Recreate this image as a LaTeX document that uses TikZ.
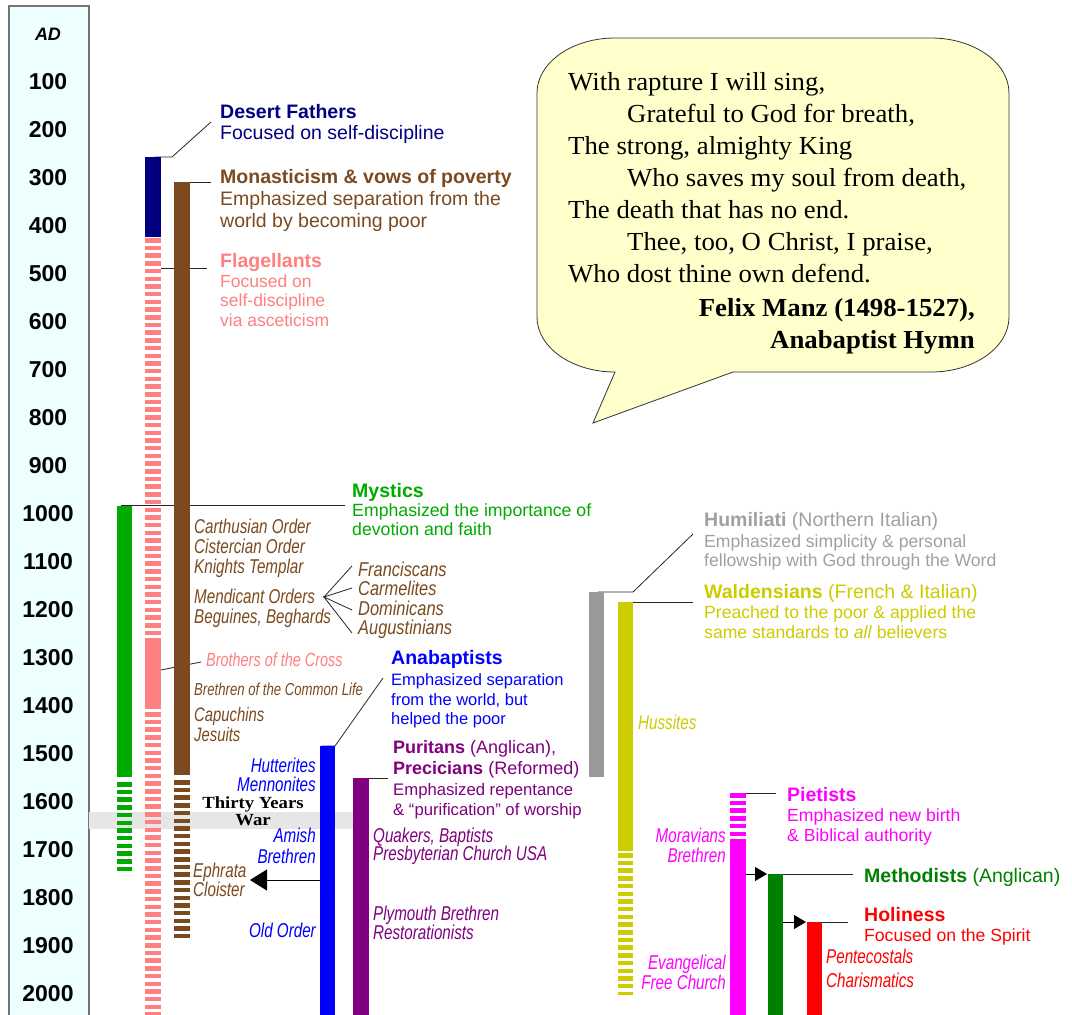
\documentclass[tikz,border=0pt]{standalone}
\usepackage{fontspec}
\setmainfont{Liberation Sans}
\newfontfamily\narrowsans[FakeStretch=0.76]{Liberation Sans}
\newfontfamily\fanwide[FakeStretch=0.82]{Liberation Sans}
\newfontfamily\hymnserif[FakeStretch=1.03]{Liberation Serif}
\newfontfamily\warserif[FakeStretch=1.1]{Liberation Serif}
\usetikzlibrary{arrows.meta}

\newcommand\fsz[1]{\fontsize{#1}{#1}\selectfont}

\definecolor{navyc}{HTML}{000080}
\definecolor{brownc}{HTML}{7B4A1E}
\definecolor{pinkc}{HTML}{FF8080}
\definecolor{mysticc}{HTML}{00AA00}
\definecolor{anabc}{HTML}{0000FF}
\definecolor{puritc}{HTML}{800080}
\definecolor{humilc}{HTML}{999999}
\definecolor{humiltxt}{HTML}{A0A0A0}
\definecolor{waldc}{HTML}{CCCC00}
\definecolor{pietc}{HTML}{FF00FF}
\definecolor{methc}{HTML}{008000}
\definecolor{holyc}{HTML}{FF0000}
\definecolor{axisbg}{HTML}{EEFFFF}
\definecolor{warbg}{HTML}{E6E6E6}
\definecolor{bubblebg}{HTML}{FFFFCC}

\begin{document}
\begin{tikzpicture}[x=1pt,y=-1pt,
  head/.style={anchor=base west,inner sep=0pt,font=\fsz{19.5}\bfseries},
  mixhead/.style={anchor=base west,inner sep=0pt,font=\fsz{19.5}},
  desc/.style={anchor=base west,inner sep=0pt,font=\fsz{19.5}},
  sdesc/.style={anchor=base west,inner sep=0pt,font=\fsz{#1}},
  ilab/.style={anchor=base west,inner sep=0pt,font=\narrowsans\itshape\fsz{20}},
  ilabr/.style={anchor=base east,inner sep=0pt,font=\narrowsans\itshape\fsz{20}},
  fanlab/.style={anchor=base west,inner sep=0pt,text=brownc,font=\fanwide\itshape\fsz{20}},
  yearlbl/.style={anchor=center,inner sep=0pt,font=\fsz{23}\bfseries},
  hymn/.style={anchor=base west,inner sep=0pt,font=\hymnserif\fsz{26}},
  hymnby/.style={anchor=base east,inner sep=0pt,font=\hymnserif\bfseries\fsz{26}},
  leader/.style={draw=black!85,line width=0.8pt},
  dashbar/.style={line width=#1,dash pattern=on 4.5pt off 3.2pt},
  dashbar/.default=16pt
]
\useasboundingbox (0,0) rectangle (1072,1015);
\fill[white] (0,0) rectangle (1072,1015);

% ---------- year axis ----------
\filldraw[fill=axisbg,draw=black!55,line width=1.2pt] (9,6) rectangle (89,1017);
\node[anchor=center,inner sep=0pt,font=\fsz{18}\bfseries\itshape] (ad) at (48,34) {AD};
\foreach \yr in {100,200,...,2000}
  \node[yearlbl] (y\yr) at (48,{34+0.48*\yr}) {\yr};

% ---------- Thirty Years War band ----------
\fill[warbg] (89,812) rectangle (353,829);

% ---------- leader lines (behind the bars) ----------
\coordinate (dfTop) at (155,157);
\coordinate (dfBend) at (172,157);
\coordinate (dfEnd) at (211,122);
\draw[leader] (dfTop) -- (dfBend) -- (dfEnd);

\coordinate (moTop) at (183,182);
\coordinate (moEnd) at (211,182);
\draw[leader] (moTop) -- (moEnd);

\coordinate (flStart) at (161,268);
\coordinate (flEnd) at (207,268);
\draw[leader] (flStart) -- (flEnd);

\coordinate (myStart) at (121,505);
\coordinate (myEnd) at (345,505);
\draw[leader] (myStart) -- (myEnd);

\coordinate (brStart) at (161,670);
\coordinate (brEnd) at (201,662);
\draw[leader] (brStart) -- (brEnd);

\coordinate (fan) at (324,597);
\coordinate (fanA) at (352,566);
\coordinate (fanB) at (352,588);
\coordinate (fanC) at (352,610);
\coordinate (fanD) at (352,633);
\draw[leader] (fanA) -- (fan) -- (fanB) (fanC) -- (fan) -- (fanD);

\coordinate (anTop) at (322,746);
\coordinate (anBend) at (335,746);
\coordinate (anEnd) at (383,678);
\draw[leader] (anTop) -- (anBend) -- (anEnd);

\coordinate (puTop) at (359,778);
\coordinate (puEnd) at (388,778);
\draw[leader] (puTop) -- (puEnd);

\coordinate (huTop) at (598,592);
\coordinate (huBend) at (633,592);
\coordinate (huEnd) at (693,534);
\draw[leader] (huTop) -- (huBend) -- (huEnd);

\coordinate (waTop) at (626,602);
\coordinate (waEnd) at (693,602);
\draw[leader] (waTop) -- (waEnd);

\coordinate (piTop) at (738,793);
\coordinate (piEnd) at (776,793);
\draw[leader] (piTop) -- (piEnd);

\coordinate (meTop) at (775,874);
\coordinate (meEnd) at (853,874);
\draw[leader] (meTop) -- (meEnd);

\coordinate (hoTop) at (815,922);
\coordinate (hoEnd) at (848,922);
\draw[leader] (hoTop) -- (hoEnd);

% ---------- bars ----------
% Desert Fathers / Flagellants column
\fill[navyc] (145,157) rectangle (161,237);
\draw[pinkc,dashbar] (153,238) -- (153,640);
\fill[pinkc] (145,640) rectangle (161,709);
\draw[pinkc,dashbar] (153,712) -- (153,1016);
% Monasticism
\fill[brownc] (174,182) rectangle (190,775);
\draw[brownc,dashbar] (182,780) -- (182,938);
% Mystics
\fill[mysticc] (117,506) rectangle (132,777);
\draw[mysticc,dashbar=15pt] (124.5,782) -- (124.5,871);
% Anabaptists, Puritans
\fill[anabc] (320,746) rectangle (335,1016);
\fill[puritc] (353,778) rectangle (369,1016);
% Humiliati, Waldensians
\fill[humilc] (589,592) rectangle (604,777);
\fill[waldc] (618,602) rectangle (633,851);
\draw[waldc,dashbar=15pt] (625.5,853) -- (625.5,995);
% Pietists, Methodists, Holiness
\draw[pietc,dashbar] (738,793) -- (738,841);
\fill[pietc] (730,841) rectangle (746,1016);
\fill[methc] (768,874) rectangle (783,1016);
\fill[holyc] (807,922) rectangle (822,1016);

% ---------- arrows ----------
\coordinate (ephFrom) at (320,880);
\coordinate (ephTo) at (250,880);
\draw[line width=0.8pt,-{Triangle[length=17pt,width=21pt]}] (ephFrom) -- (ephTo);
\coordinate (meFrom) at (746,874);
\coordinate (meTo) at (767,874);
\draw[line width=0.8pt,-{Triangle[length=12pt,width=14pt]}] (meFrom) -- (meTo);
\coordinate (hoFrom) at (783,922);
\coordinate (hoTo) at (806,922);
\draw[line width=0.8pt,-{Triangle[length=12pt,width=14pt]}] (hoFrom) -- (hoTo);

% ---------- labels ----------
\node[head,text=navyc] (df) at (220,118) {Desert Fathers};
\node[desc,text=navyc] (df1) at (220,139) {Focused on self-discipline};

\node[head,text=brownc] (mo) at (220,183) {Monasticism \& vows of poverty};
\node[desc,text=brownc] (mo1) at (220,205) {Emphasized separation from the};
\node[desc,text=brownc] (mo2) at (220,227) {world by becoming poor};

\node[head,text=pinkc] (fl) at (220,267) {Flagellants};
\node[sdesc=17.5,text=pinkc] (fl1) at (220,287) {Focused on};
\node[sdesc=17.5,text=pinkc] (fl2) at (220,306.5) {self-discipline};
\node[sdesc=17.5,text=pinkc] (fl3) at (220,326) {via asceticism};

\node[head,text=mysticc] (my) at (352,497) {Mystics};
\node[sdesc=17.7,text=mysticc] (my1) at (352,516) {Emphasized the importance of};
\node[sdesc=17.7,text=mysticc] (my2) at (352,535) {devotion and faith};

\node[ilab,text=brownc] (o1) at (194,533) {Carthusian Order};
\node[ilab,text=brownc] (o2) at (194,553) {Cistercian Order};
\node[ilab,text=brownc] (o3) at (194,573) {Knights Templar};
\node[ilab,text=brownc] (o4) at (194,603) {Mendicant Orders};
\node[ilab,text=brownc] (o5) at (194,623) {Beguines, Beghards};

\node[fanlab] (fr1) at (358,576) {Franciscans};
\node[fanlab] (fr2) at (358,595.5) {Carmelites};
\node[fanlab] (fr3) at (358,615) {Dominicans};
\node[fanlab] (fr4) at (358,634.5) {Augustinians};

\node[ilab,text=pinkc,font=\narrowsans\itshape\fsz{19}] (bc) at (206,666) {Brothers of the Cross};
\node[ilab,text=brownc,font=\narrowsans\itshape\fsz{17.3}] (bl) at (194,695) {Brethren of the Common Life};
\node[ilab,text=brownc,font=\narrowsans\itshape\fsz{19.5}] (cap) at (194,721) {Capuchins};
\node[ilab,text=brownc,font=\narrowsans\itshape\fsz{19.5}] (jes) at (194,741) {Jesuits};

\node[head,text=anabc] (an) at (391,664) {Anabaptists};
\node[sdesc=16.5,text=anabc] (an1) at (391,685) {Emphasized separation};
\node[sdesc=16.5,text=anabc] (an2) at (391,705) {from the world, but};
\node[sdesc=16.5,text=anabc] (an3) at (391,724) {helped the poor};

\node[sdesc=18,text=puritc] (pu) at (393,753) {\textbf{Puritans} (Anglican),};
\node[sdesc=18,text=puritc] (pr) at (393,774) {\textbf{Precicians} (Reformed)};
\node[sdesc=16.7,text=puritc] (pu1) at (393,795) {Emphasized repentance};
\node[sdesc=16.7,text=puritc] (pu2) at (393,815) {\& “purification” of worship};

\node[ilabr,text=anabc] (hut) at (316,772) {Hutterites};
\node[ilabr,text=anabc] (men) at (316,791) {Mennonites};
\node[ilabr,text=anabc] (ami) at (316,842) {Amish};
\node[ilabr,text=anabc] (bre) at (316,863) {Brethren};
\node[ilabr,text=anabc] (old) at (316,937) {Old Order};

\node[anchor=base,inner sep=0pt,font=\warserif\bfseries\fsz{17}] (war1) at (253,808) {Thirty Years};
\node[anchor=base,inner sep=0pt,font=\warserif\bfseries\fsz{17}] (war2) at (253,825) {War};

\node[ilab,text=brownc] (eph1) at (193,877) {Ephrata};
\node[ilab,text=brownc] (eph2) at (193,896) {Cloister};

\node[ilab,text=puritc] (qu) at (373,842) {Quakers, Baptists};
\node[ilab,text=puritc] (pc) at (373,860) {Presbyterian Church USA};
\node[ilab,text=puritc] (pl) at (373,920) {Plymouth Brethren};
\node[ilab,text=puritc] (re) at (373,939) {Restorationists};

\node[mixhead,text=humiltxt] (hu) at (704,526) {\textbf{Humiliati} (Northern Italian)};
\node[sdesc=17.6,text=humiltxt] (hu1) at (704,547) {Emphasized simplicity \& personal};
\node[sdesc=17.6,text=humiltxt] (hu2) at (704,566) {fellowship with God through the Word};

\node[mixhead,text=waldc] (wa) at (704,598) {\textbf{Waldensians} (French \& Italian)};
\node[sdesc=17.6,text=waldc] (wa1) at (704,618) {Preached to the poor \& applied the};
\node[sdesc=17.6,text=waldc] (wa2) at (704,638) {same standards to \textit{all} believers};

\node[ilab,text=waldc] (hus) at (638,729) {Hussites};

\node[head,text=pietc] (pi) at (787,801) {Pietists};
\node[sdesc=17.6,text=pietc] (pi1) at (787,821) {Emphasized new birth};
\node[sdesc=17.6,text=pietc] (pi2) at (787,841) {\& Biblical authority};

\node[ilabr,text=pietc] (mor1) at (726,842) {Moravians};
\node[ilabr,text=pietc] (mor2) at (726,862) {Brethren};
\node[ilabr,text=pietc] (ev1) at (726,969) {Evangelical};
\node[ilabr,text=pietc] (ev2) at (726,989) {Free Church};

\node[mixhead,text=methc] (me) at (864,882) {\textbf{Methodists} (Anglican)};

\node[head,text=holyc] (ho) at (864,921) {Holiness};
\node[sdesc=17.6,text=holyc] (ho1) at (864,941) {Focused on the Spirit};
\node[ilab,text=holyc] (pe1) at (826,963) {Pentecostals};
\node[ilab,text=holyc] (pe2) at (826,987) {Charismatics};

% ---------- hymn speech bubble ----------
\filldraw[fill=bubblebg,draw=black!80,line width=0.8pt]
  (615,38) -- (931,38) .. controls (974,38) and (1009,62.6) .. (1009,93)
  -- (1009,317) .. controls (1009,347.4) and (974,372) .. (931,372)
  -- (733,372) -- (593,423) -- (615,372)
  .. controls (572,372) and (537,347.4) .. (537,317)
  -- (537,93) .. controls (537,62.6) and (572,38) .. (615,38) -- cycle;

\node[hymn] (h1) at (568,90) {With rapture I will sing,};
\node[hymn] (h2) at (627,122) {Grateful to God for breath,};
\node[hymn] (h3) at (568,154) {The strong, almighty King};
\node[hymn] (h4) at (627,186) {Who saves my soul from death,};
\node[hymn] (h5) at (568,218) {The death that has no end.};
\node[hymn] (h6) at (627,250) {Thee, too, O Christ, I praise,};
\node[hymn] (h7) at (568,282) {Who dost thine own defend.};
\node[hymnby] (by1) at (975,316) {Felix Manz (1498-1527),};
\node[hymnby] (by2) at (975,348) {Anabaptist Hymn};
\end{tikzpicture}
\end{document}
